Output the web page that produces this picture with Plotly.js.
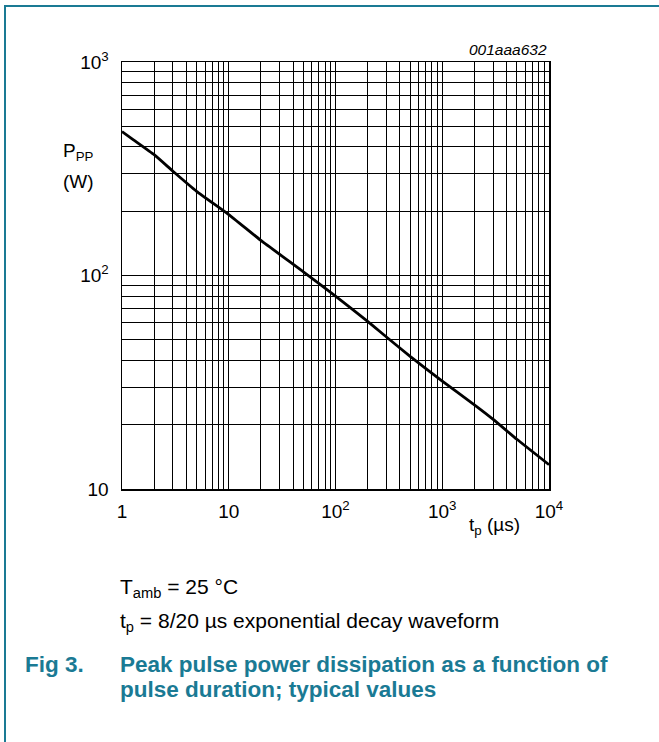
<!DOCTYPE html>
<html>
<head>
<meta charset="utf-8">
<script src="https://cdn.plot.ly/plotly-3.0.1.min.js"></script>
<style>
  html, body { margin: 0; padding: 0; background: #ffffff; }
  #wrap { position: relative; width: 659px; height: 742px; overflow: hidden; background: #ffffff; }
  #frame { position: absolute; left: 4px; top: 5px; width: 700px; height: 800px;
           border-top: 2px solid #1a7a94; border-left: 2px solid #1a7a94; }
  #chart { position: absolute; left: 0; top: 0; width: 659px; height: 742px; }
</style>
</head>
<body>
<div id="wrap">
  <div id="frame"></div>
  <div id="chart"></div>
</div>
<script>
// ---- data ----
var pulseDuration = [1, 1.28, 2, 3, 5, 10, 20, 50, 100, 200, 300, 500, 1000, 2000, 3000, 5000, 10000]; // t_p (µs)
var peakPower     = [472, 432, 368, 308, 248, 193, 146, 104, 80, 61, 51.5, 41.8, 32, 24.8, 21.2, 17.1, 13]; // P_PP (W)

var xDecades = [1, 10, 100, 1000, 10000];
var xTickLabels = ['1', '10', '10<sup>2</sup>', '10<sup>3</sup>', '10<sup>4</sup>'];
var yDecades = [10, 100, 1000];
var yTickLabels = ['10', '10<sup>2</sup>', '10<sup>3</sup>'];
var mantissas = [2, 3, 4, 5, 6, 7, 8, 9];

var figureCode = '001aaa632';
var yTitleLine1 = 'P<sub>PP</sub>';
var yTitleLine2 = '(W)';
var xTitle = 't<sub>p</sub> (µs)';
var noteLine1 = 'T<sub>amb</sub> = 25 °C';
var noteLine2 = 't<sub>p</sub> = 8/20 µs exponential decay waveform';
var figLabel = 'Fig 3.';
var captionLine1 = 'Peak pulse power dissipation as a function of';
var captionLine2 = 'pulse duration; typical values';

// ---- minor grid values (2..9 × each decade) ----
function minorVals(decades) {
  var vals = [];
  for (var i = 0; i < decades.length - 1; i++) {
    for (var j = 0; j < mantissas.length; j++) vals.push(decades[i] * mantissas[j]);
  }
  return vals;
}

var FONT = 'Liberation Sans, Arial, Helvetica, sans-serif';
var TEAL = '#1a7a94';

var trace = {
  x: pulseDuration,
  y: peakPower,
  type: 'scatter',
  mode: 'lines',
  line: {color: '#000000', width: 2.8, shape: 'spline', smoothing: 0.4},
  hoverinfo: 'skip',
  showlegend: false
};

function axis(decades, labels, standoff) {
  return {
    type: 'log',
    range: [Math.log10(decades[0]), Math.log10(decades[decades.length - 1])],
    tickmode: 'array', tickvals: decades, ticktext: labels,
    ticks: '', ticklabelstandoff: standoff,
    tickfont: {family: FONT, size: 19, color: '#000'},
    showgrid: true, gridcolor: '#000000', gridwidth: 1,
    minor: {tickmode: 'array', tickvals: minorVals(decades), showgrid: true,
            gridcolor: '#000000', gridwidth: 1, ticks: ''},
    showline: true, linecolor: '#000000', linewidth: 1.5, mirror: true,
    zeroline: false, fixedrange: true
  };
}

var layout = {
  width: 659,
  height: 742,
  margin: {l: 122, r: 110, t: 62, b: 253},
  paper_bgcolor: 'rgba(0,0,0,0)',
  plot_bgcolor: 'rgba(0,0,0,0)',
  font: {family: FONT, color: '#000000', size: 19},
  showlegend: false,
  xaxis: axis(xDecades, xTickLabels, 5),
  yaxis: axis(yDecades, yTickLabels, 8),
  annotations: [
    {text: '<i>' + figureCode + '</i>', xref: 'paper', yref: 'paper', x: 1, y: 1, xanchor: 'right', yanchor: 'bottom',
     yshift: 2, showarrow: false, font: {family: FONT, size: 15.5, color: '#000'}},
    {text: yTitleLine1, xref: 'paper', yref: 'paper', x: -0.101, y: 0.79, xanchor: 'center', yanchor: 'middle',
     showarrow: false, font: {family: FONT, size: 19, color: '#000'}},
    {text: yTitleLine2, xref: 'paper', yref: 'paper', x: -0.101, y: 0.72, xanchor: 'center', yanchor: 'middle',
     showarrow: false, font: {family: FONT, size: 19, color: '#000'}},
    {text: xTitle, xref: 'paper', yref: 'paper', x: 0.873, y: -0.087, xanchor: 'center', yanchor: 'middle',
     showarrow: false, font: {family: FONT, size: 19, color: '#000'}},
    {text: noteLine1, xref: 'paper', yref: 'paper', x: -0.0094, y: -0.232, xanchor: 'left', yanchor: 'middle',
     showarrow: false, font: {family: FONT, size: 21, color: '#000'}},
    {text: noteLine2, xref: 'paper', yref: 'paper', x: -0.0094, y: -0.312, xanchor: 'left', yanchor: 'middle',
     showarrow: false, font: {family: FONT, size: 21, color: '#000'}},
    {text: '<b>' + figLabel + '</b>', xref: 'paper', yref: 'paper', x: -0.2325, y: -0.41, xanchor: 'left', yanchor: 'middle',
     showarrow: false, font: {family: FONT, size: 22.5, color: TEAL}},
    {text: '<b>' + captionLine1 + '</b>', xref: 'paper', yref: 'paper', x: -0.0094, y: -0.41, xanchor: 'left', yanchor: 'middle',
     showarrow: false, font: {family: FONT, size: 22.5, color: TEAL}},
    {text: '<b>' + captionLine2 + '</b>', xref: 'paper', yref: 'paper', x: -0.0094, y: -0.4685, xanchor: 'left', yanchor: 'middle',
     showarrow: false, font: {family: FONT, size: 22.5, color: TEAL}}
  ]
};

Plotly.newPlot('chart', [trace], layout, {displayModeBar: false, staticPlot: true});
</script>
</body>
</html>
